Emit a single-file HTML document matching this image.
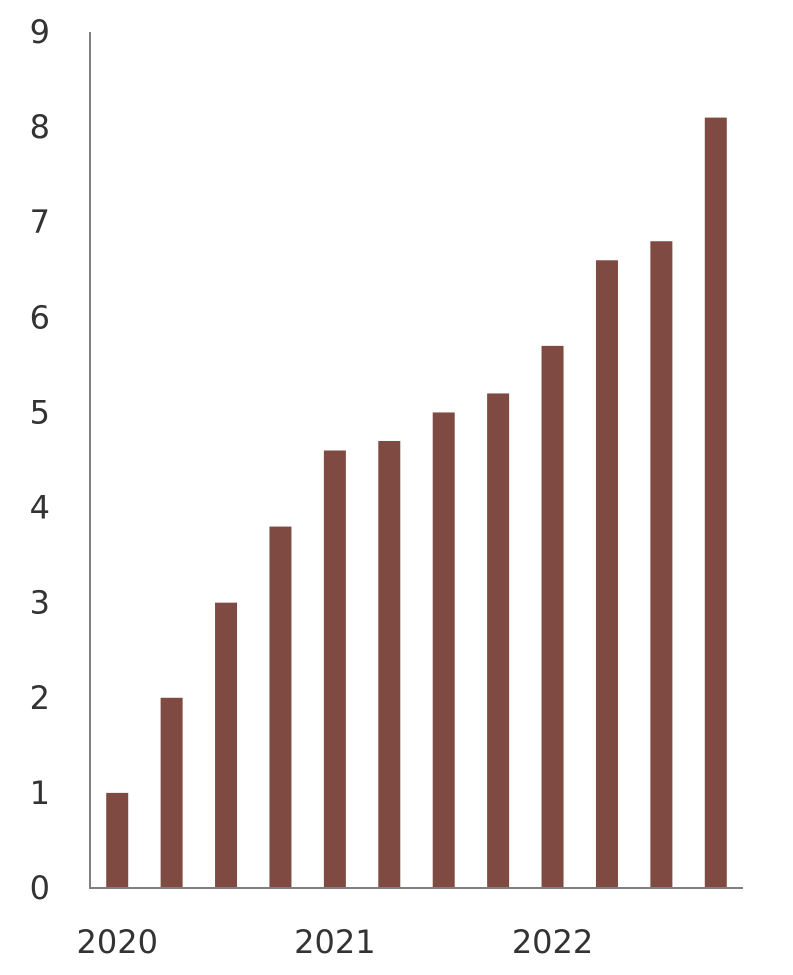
<!DOCTYPE html>
<html><head><meta charset="utf-8"><style>
html,body{margin:0;padding:0;background:#fff;}
svg{display:block;}
text{font-family:"DejaVu Sans","Liberation Sans",sans-serif;fill:#333;font-size:32px;}
</style></head><body>
<svg id="chart" width="793" height="975" xmlns="http://www.w3.org/2000/svg"></svg>
<script>
const categories=["2020 Q1","2020 Q2","2020 Q3","2020 Q4","2021 Q1","2021 Q2","2021 Q3","2021 Q4","2022 Q1","2022 Q2","2022 Q3","2022 Q4"];
const values=[1,2,3,3.8,4.6,4.7,5,5.2,5.7,6.6,6.8,8.1];
const yTicks=[0,1,2,3,4,5,6,7,8,9];
const xLabels=[{i:0,t:"2020"},{i:4,t:"2021"},{i:8,t:"2022"}];
const svg=document.getElementById('chart');
const NS="http://www.w3.org/2000/svg";
const x0=90,x1=743,y0=888,y9=32,yMax=9;
const band=(x1-x0)/categories.length,bw=22;
const y=v=>y0-(y0-y9)*v/yMax;
const cx=i=>x0+band*(i+0.5);
function mk(tag,attrs){const e=document.createElementNS(NS,tag);for(const k in attrs)e.setAttribute(k,attrs[k]);svg.appendChild(e);return e;}
values.forEach((v,i)=>{
 const r=mk('rect',{x:cx(i)-bw/2,y:y(v),width:bw,height:y0-y(v),fill:'#7f4a41'});
 
 
});
const ax=mk('polyline',{points:`${x0},${y9} ${x0},${y0} ${x1},${y0}`,fill:'none',stroke:'#7f7f7f','stroke-width':2});


yTicks.forEach(t=>{
 const e=mk('text',{x:50,y:y(t)+11,'text-anchor':'end'});e.textContent=t;
 
 
});
xLabels.forEach(l=>{
 const e=mk('text',{x:cx(l.i),y:953,'text-anchor':'middle'});e.textContent=l.t;
 
 
});
</script>
</body></html>
